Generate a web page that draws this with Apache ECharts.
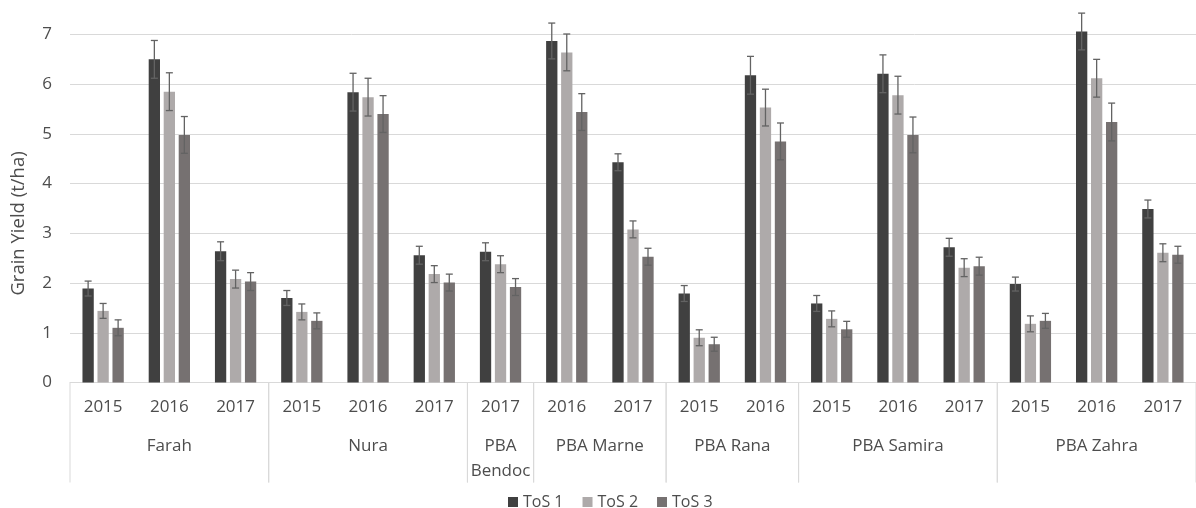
<!DOCTYPE html>
<html>
<head>
<meta charset="utf-8">
<script src="https://cdn.jsdelivr.net/npm/echarts@6/dist/echarts.min.js"></script>
<style>html,body{margin:0;padding:0;background:#fff}#c{width:1196px;height:508px}</style>
</head>
<body>
<div id="c"></div>
<script>
var years = ['2015','2016','2017','2015','2016','2017','2017','2016','2017','2015','2016','2015','2016','2017','2015','2016','2017'];
var varieties = ['Farah','Nura','PBA\nBendoc','PBA Marne','PBA Rana','PBA Samira','PBA Zahra'];
var varietySizes = [3,3,1,2,2,3,3];
var seriesNames = ['ToS 1','ToS 2','ToS 3'];
var tos1 = [1.89, 6.50, 2.64, 1.70, 5.84, 2.56, 2.63, 6.87, 4.43, 1.79, 6.18, 1.59, 6.21, 2.72, 1.98, 7.06, 3.49];
var tos2 = [1.44, 5.85, 2.08, 1.42, 5.74, 2.18, 2.38, 6.64, 3.08, 0.90, 5.53, 1.28, 5.78, 2.31, 1.18, 6.12, 2.61];
var tos3 = [1.10, 4.98, 2.03, 1.24, 5.40, 2.01, 1.92, 5.44, 2.53, 0.77, 4.85, 1.07, 4.98, 2.34, 1.24, 5.24, 2.57];
var err1 = [0.15,0.38,0.19,0.15,0.38,0.18,0.18,0.36,0.17,0.16,0.38,0.16,0.38,0.18,0.14,0.37,0.18];
var err2 = [0.15,0.38,0.18,0.16,0.38,0.17,0.17,0.37,0.17,0.16,0.37,0.16,0.38,0.18,0.16,0.38,0.18];
var err3 = [0.16,0.37,0.18,0.16,0.37,0.17,0.17,0.37,0.17,0.14,0.37,0.16,0.36,0.18,0.15,0.38,0.17];
var yTicks = [0,1,2,3,4,5,6,7];

var colors = ['#404040','#AEAAAA','#767171'];
var FONT = 'Open Sans';
var TXT = '#4d4d4d';
var BAR_W = 11.3, GAP = 3.7;

var values = [tos1, tos2, tos3];
var errs = [err1, err2, err3];

var series = [];
values.forEach(function(v, i){
  series.push({
    name: seriesNames[i], type: 'bar', xAxisIndex: 0, yAxisIndex: 0, clip: false,
    data: v, barWidth: BAR_W, barGap: (GAP / BAR_W * 100) + '%',
    itemStyle: {color: colors[i]}, z: 2
  });
});
values.forEach(function(v, i){
  var off = (i - 1) * (BAR_W + GAP);
  series.push({
    type: 'custom', xAxisIndex: 0, yAxisIndex: 0, z: 5, silent: true, clip: false,
    data: v.map(function(val, k){ return [k, val, errs[i][k]]; }),
    renderItem: function(params, api){
      var k = api.value(0), val = api.value(1), e = api.value(2);
      var t = api.coord([k, val + e]);
      var b = api.coord([k, val - e]);
      var x = t[0] + off;
      var st = {stroke: '#636363', lineWidth: 1.3};
      return {type: 'group', children: [
        {type: 'line', shape: {x1: x, y1: t[1], x2: x, y2: b[1]}, style: st},
        {type: 'line', shape: {x1: x - 3.5, y1: t[1], x2: x + 3.5, y2: t[1]}, style: st},
        {type: 'line', shape: {x1: x - 3.5, y1: b[1], x2: x + 3.5, y2: b[1]}, style: st}
      ]};
    }
  });
});
// variety group separators and labels
var groups = [];
var start = 0;
varieties.forEach(function(n, i){ groups.push([start, start + varietySizes[i], n]); start += varietySizes[i]; });
series.push({
  type: 'custom', xAxisIndex: 1, yAxisIndex: 0, z: 3, silent: true, clip: false,
  data: groups,
  renderItem: function(params, api){
    var s = api.value(0), e = api.value(1), name = groups[params.dataIndex][2];
    var p0 = api.coord([s, 0]), p1 = api.coord([e, 0]);
    var ls = {stroke: '#D9D9D9', lineWidth: 1};
    var lines = name.split('\n');
    var children = [
      {type: 'line', shape: {x1: p0[0], y1: p0[1], x2: p0[0], y2: p0[1] + 100}, style: ls},
      {type: 'line', shape: {x1: p1[0], y1: p1[1], x2: p1[0], y2: p1[1] + 100}, style: ls}
    ];
    lines.forEach(function(l, j){
      children.push({type: 'text', style: {text: l, x: (p0[0] + p1[0]) / 2, y: p0[1] + 64 + j * 25,
        align: 'center', verticalAlign: 'middle', fill: TXT, font: '17px "' + FONT + '"'}});
    });
    return {type: 'group', children: children};
  }
});

var chart = echarts.init(document.getElementById('c'));
chart.setOption({
  animation: false,
  textStyle: {fontFamily: FONT},
  grid: {left: 70, right: -6, top: 34.5, bottom: 125.5},
  legend: {
    data: seriesNames, left: 503, top: 489, icon: 'rect', itemWidth: 10, itemHeight: 10,
    itemGap: 19, textStyle: {fontSize: 16, color: TXT, fontFamily: FONT}
  },
  xAxis: [
    {type: 'category', data: years, axisLine: {lineStyle: {color: '#D9D9D9'}},
      axisTick: {show: false}, axisLabel: {fontSize: 17, color: TXT, margin: 16, interval: 0, fontFamily: FONT},
      splitLine: {show: false}},
    {type: 'value', min: 0, max: years.length, show: false}
  ],
  yAxis: [{
    type: 'value', min: yTicks[0], max: yTicks[yTicks.length - 1], interval: 1,
    name: 'Grain Yield (t/ha)', nameLocation: 'middle', nameGap: 42,
    nameTextStyle: {fontSize: 18.5, color: TXT, fontFamily: FONT, padding: [0, 30, 0, 0]},
    axisLine: {show: false}, axisTick: {show: false},
    axisLabel: {fontSize: 17, color: TXT, margin: 18, fontFamily: FONT},
    splitLine: {lineStyle: {color: '#D9D9D9'}}
  }],
  series: series
});
</script>
</body>
</html>
